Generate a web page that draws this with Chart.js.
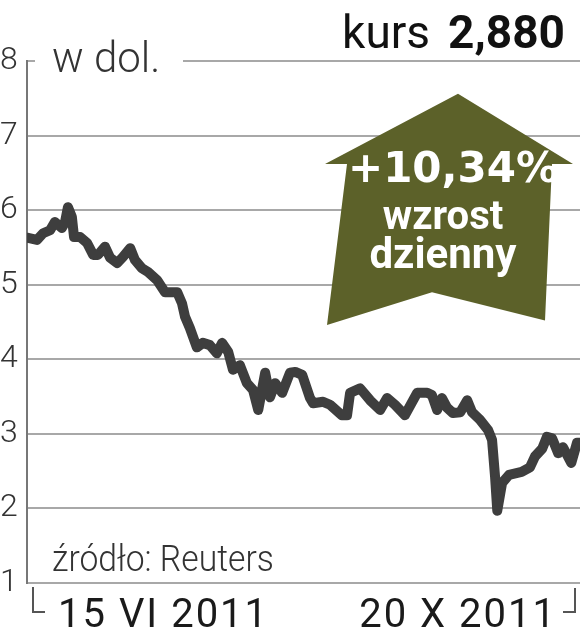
<!DOCTYPE html>
<html>
<head>
<meta charset="utf-8">
<script src="https://cdn.jsdelivr.net/npm/chart.js@4.4.0/dist/chart.umd.min.js"></script>
<style>
  html, body { margin: 0; padding: 0; background: #fff; }
  #wrap { position: relative; width: 582px; height: 640px; overflow: hidden; font-family: Roboto, sans-serif; }
  #wrap canvas { position: absolute; left: 0; top: 0; }
  .txt { position: absolute; white-space: nowrap; line-height: 1; }
  #kurs { right: 17px; top: 9px; font-size: 46px; color: #111; }
  #kurs b { margin-left: 18px; font-weight: 700; }
  #unit { left: 52px; top: 37px; font-size: 42px; font-weight: 300; color: #333; }
  #source { left: 52px; top: 540px; font-size: 37px; font-weight: 300; color: #333; transform: scaleX(0.91); transform-origin: left; }
  .date { top: 594px; font-size: 40px; color: #1a1a1a; letter-spacing: 2px; }
  #arrowText { left: 318px; width: 250px; top: 146px; text-align: center; color: #fff; font-weight: 700; }
  #arrowText div { line-height: 44px; }
</style>
</head>
<body>
<div id="wrap">
  <canvas id="chart" width="582" height="640"></canvas>
  <div class="txt" id="kurs">kurs<b id="kursVal"></b></div>
  <div class="txt" id="unit">w dol.</div>
  <div class="txt" id="source">źródło: Reuters</div>
  <div class="txt" id="arrowText"></div>
</div>
<script>
// dane: dni od 15 VI 2011 i kurs w dolarach
const days = [0, 2.3, 3.7, 5.3, 6.4, 8.0, 8.7, 9.4, 10.3, 10.8, 12.2, 13.8, 15.2, 16.3, 17.9, 19.1, 20.7, 22.0, 23.7, 24.8,
  26.4, 27.8, 29.9, 31.7, 34.5, 35.6, 36.3, 37.4, 39.0, 40.4, 42.0, 43.6, 44.8, 46.2, 47.3, 48.9, 50.5, 51.9, 53.1, 54.7,
  55.8, 57.0, 58.6, 60.4, 61.6, 63.2, 65.0, 65.7, 68.0, 69.6, 72.3, 73.5, 74.2, 76.5, 78.8, 81.1, 82.7, 84.5, 86.8, 89.6,
  91.9, 93.0, 94.2, 95.3, 96.5, 97.8, 99.5, 101.1, 102.2, 104.0, 105.9, 106.8, 107.5, 108.0, 109.1, 110.7, 113.6, 115.5, 116.7, 118.3,
  119.4, 120.6, 122.0, 123.1, 125.0, 126.3, 127];
const prices = [5.63, 5.60, 5.69, 5.73, 5.84, 5.76, 5.83, 6.04, 5.91, 5.64, 5.64, 5.56, 5.40, 5.40, 5.51, 5.36, 5.29, 5.37, 5.49, 5.33,
  5.22, 5.17, 5.06, 4.90, 4.90, 4.75, 4.57, 4.42, 4.16, 4.22, 4.19, 4.08, 4.22, 4.10, 3.86, 3.92, 3.68, 3.59, 3.32, 3.82,
  3.49, 3.68, 3.55, 3.82, 3.83, 3.79, 3.48, 3.41, 3.43, 3.39, 3.25, 3.25, 3.55, 3.61, 3.45, 3.32, 3.48, 3.39, 3.25, 3.55,
  3.55, 3.52, 3.32, 3.48, 3.35, 3.28, 3.29, 3.45, 3.29, 3.19, 3.05, 2.92, 2.42, 1.97, 2.34, 2.45, 2.49, 2.55, 2.70, 2.80,
  2.96, 2.94, 2.74, 2.82, 2.61, 2.88, 2.88];
const dateLabels = ['15 VI 2011', '20 X 2011'];
const yTicks = [1, 2, 3, 4, 5, 6, 7, 8];
const lastPrice = '2,880';
const changeText = ['+10,34%', 'wzrost', 'dzienny'];

document.getElementById('kursVal').innerText = lastPrice;
document.getElementById('arrowText').innerHTML =
  '<div style="font-size:42px;font-family:\'DejaVu Sans\';margin-left:20px">' + changeText[0] + '</div>' +
  '<div style="font-size:40px;margin-top:4px">' + changeText[1] + '</div>' +
  '<div style="font-size:42px;margin-top:-6px">' + changeText[2] + '</div>';

// etykiety dat pod osia
dateLabels.forEach((d, i) => {
  const el = document.createElement('div');
  el.className = 'txt date';
  el.innerText = d;
  if (i === 0) el.style.left = '58px'; else el.style.right = '25px';
  document.getElementById('wrap').appendChild(el);
});

// dodatki: przerwa w gornej linii, strzalka, narozniki
const extras = {
  id: 'extras',
  beforeDatasetsDraw(chart) {
    const { ctx, chartArea: a, scales: { y } } = chart;
    ctx.save();
    // przerwa na "w dol."
    ctx.fillStyle = '#fff';
    ctx.fillRect(a.left + 8, y.getPixelForValue(8) - 3, 148, 6);

    // strzalka w gore
    const top = y.getPixelForValue(7.56);
    const wing = y.getPixelForValue(6.62);
    ctx.fillStyle = '#5c6129';
    ctx.beginPath();
    ctx.moveTo(458, top);
    ctx.lineTo(573, wing);
    ctx.lineTo(552, wing);
    ctx.lineTo(545, y.getPixelForValue(4.52));
    ctx.lineTo(432, y.getPixelForValue(4.9));
    ctx.lineTo(327, y.getPixelForValue(4.46));
    ctx.lineTo(347, wing);
    ctx.lineTo(325, wing);
    ctx.closePath();
    ctx.fill();

    // narozniki pod osia
    ctx.strokeStyle = '#555';
    ctx.lineWidth = 2;
    ctx.beginPath();
    ctx.moveTo(a.left + 6, a.bottom + 4);
    ctx.lineTo(a.left + 6, a.bottom + 29);
    ctx.lineTo(a.left + 18, a.bottom + 29);
    ctx.moveTo(a.right - 17, a.bottom + 29);
    ctx.lineTo(a.right - 5, a.bottom + 29);
    ctx.lineTo(a.right - 5, a.bottom + 5);
    ctx.stroke();
    ctx.restore();
  }
};

const ctx = document.getElementById('chart').getContext('2d');
const myChart = new Chart(ctx, {
  type: 'line',
  data: {
    datasets: [{
      data: days.map((d, i) => ({ x: d, y: prices[i] })),
      borderColor: '#3e3e3e',
      borderWidth: 10,
      borderJoinStyle: 'round',
      borderCapStyle: 'round',
      pointRadius: 0,
      tension: 0
    }]
  },
  options: {
    responsive: false,
    animation: false,
    layout: { padding: { left: 0, right: 2, top: 61, bottom: 57 } },
    plugins: { legend: { display: false }, tooltip: { enabled: false } },
    scales: {
      x: { type: 'linear', min: 0, max: 127, display: false },
      y: {
        min: 1, max: 8,
        afterFit(scale) { scale.width = 27; },
        afterBuildTicks(scale) { scale.ticks = yTicks.map(v => ({ value: v })); },
        ticks: {
          crossAlign: 'far', padding: 0, color: '#333',
          font: { family: 'Roboto', size: 32, weight: '300' }
        },
        grid: { color: '#a8a8a8', lineWidth: 2, drawTicks: false },
        border: { color: '#777', width: 2 }
      }
    }
  },
  plugins: [extras]
});
</script>
</body>
</html>
